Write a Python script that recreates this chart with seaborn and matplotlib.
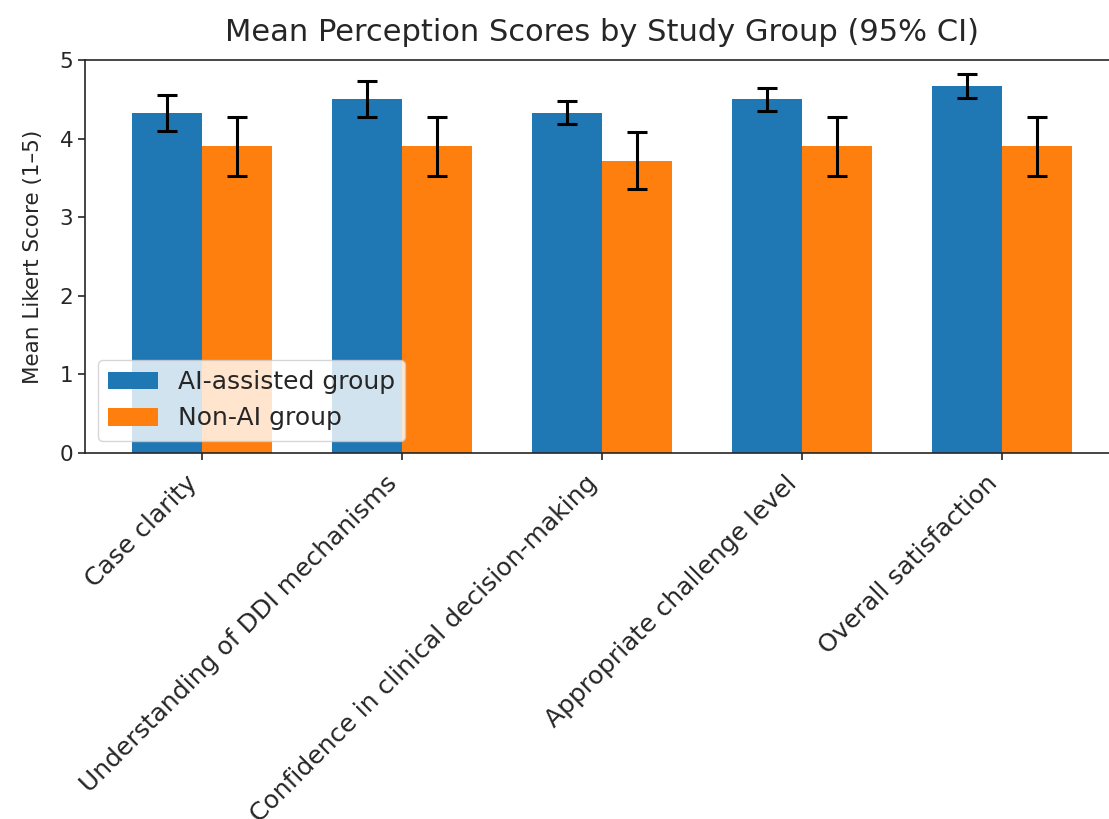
import pandas as pd
import numpy as np
import matplotlib
matplotlib.use("Agg")
import matplotlib.pyplot as plt
import seaborn as sns

categories = [
    "Case clarity",
    "Understanding of DDI mechanisms",
    "Confidence in clinical decision-making",
    "Appropriate challenge level",
    "Overall satisfaction",
]
groups = ["AI-assisted group", "Non-AI group"]
ai_mean = [4.33, 4.50, 4.33, 4.50, 4.67]
ai_ci = [0.23, 0.23, 0.15, 0.15, 0.15]
nonai_mean = [3.90, 3.90, 3.72, 3.90, 3.90]
nonai_ci = [0.38, 0.38, 0.36, 0.38, 0.38]

df = pd.DataFrame({
    "item": categories * 2,
    "group": [groups[0]] * 5 + [groups[1]] * 5,
    "mean": ai_mean + nonai_mean,
    "ci": ai_ci + nonai_ci,
})

sns.set_style("ticks")
fig = plt.figure(figsize=(11.09, 8.19), dpi=100)
ax = fig.add_axes([85 / 1109, 1 - 453 / 819, 1034 / 1109, 393 / 819])

sns.barplot(
    data=df, x="item", y="mean", hue="group",
    palette=["#1f77b4", "#ff7f0e"], width=0.7,
    errorbar=None, saturation=1, linewidth=0, ax=ax,
)

# error bars from the drawn bars
for cont, ci in zip(ax.containers, [ai_ci, nonai_ci]):
    xs = [b.get_x() + b.get_width() / 2 for b in cont]
    ys = [b.get_height() for b in cont]
    ax.errorbar(xs, ys, yerr=ci, fmt="none", ecolor="black",
                elinewidth=2.2, capsize=7, capthick=2.2)

ax.set_xlim(-0.585, 4.585)
ax.set_ylim(0, 5)
ax.set_yticks([0, 1, 2, 3, 4, 5])
ax.set_xlabel("")
ax.set_ylabel("Mean Likert Score (1–5)", fontsize=15.5, labelpad=12)
ax.set_title("Mean Perception Scores by Study Group (95% CI)", fontsize=22, pad=14)
ax.tick_params(axis="y", labelsize=15.5, length=5, width=1.2)
ax.tick_params(axis="x", labelsize=18, length=5, width=1.2, pad=8)
plt.setp(ax.get_xticklabels(), rotation=45, ha="right")
for s in ax.spines.values():
    s.set_visible(True)
    s.set_linewidth(1.2)

ax.legend(loc="lower left", fontsize=18, title=None, framealpha=0.8)

plt.savefig("out.png", dpi=100)
plt.close()
